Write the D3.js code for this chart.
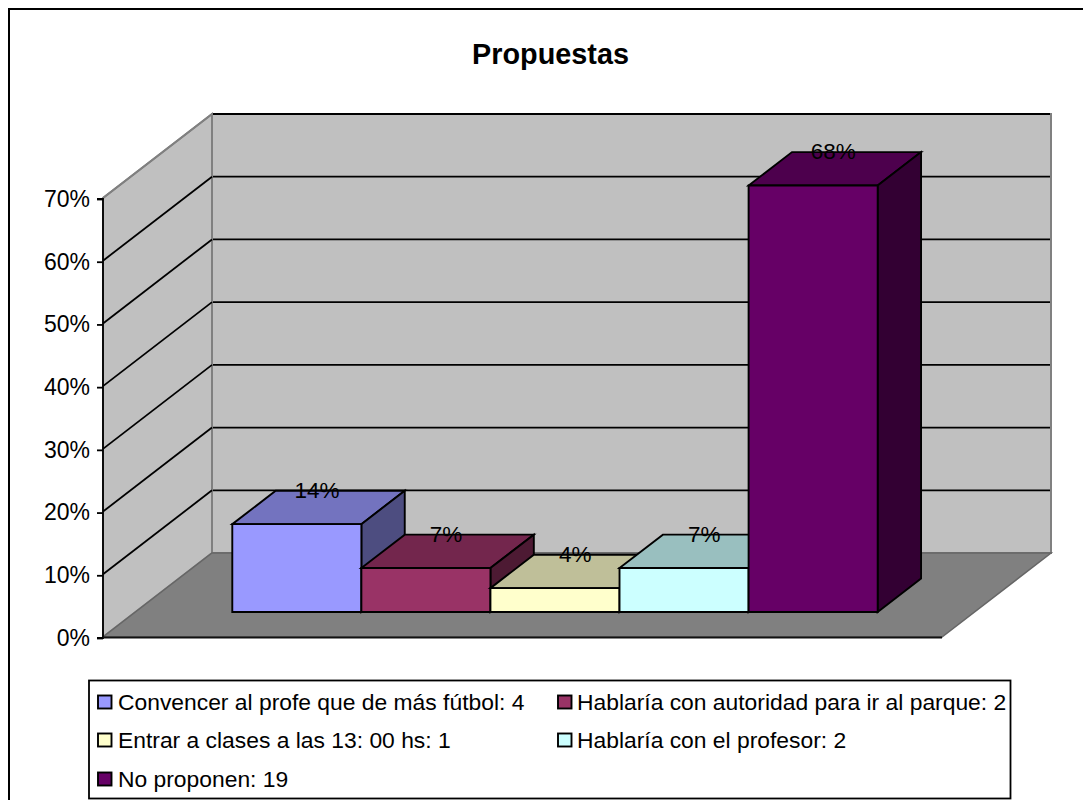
<!DOCTYPE html>
<html><head><meta charset="utf-8">
<script src="https://cdn.jsdelivr.net/npm/d3@7"></script>
<style>html,body{margin:0;padding:0;background:#fff}svg{display:block}text{font-family:"Liberation Sans",Arial,sans-serif;fill:#000}</style>
</head><body><div id="c"></div>
<script>
const categories=["Convencer al profe que de más fútbol: 4","Hablaría con autoridad para ir al parque: 2","Entrar a clases a las 13: 00 hs: 1","Hablaría con el profesor: 2","No proponen: 19"];
const values=[14,7,3.8,7,68];
const labels=["14%","7%","4%","7%","68%"];
const colors=["#9999FF","#993366","#FFFFCC","#CCFFFF","#660066"];
const topColors=["#7373BF","#73264D","#BFBF99","#99BFBF","#4D004D"];
const sideColors=["#4D4D80","#4D1A33","#808066","#668080","#330033"];
const ticks=[0,10,20,30,40,50,60,70];
const title="Propuestas";

const W=1083,H=800;
const svg=d3.select("#c").append("svg").attr("width",W).attr("height",H);
const x0=103,x1=942,y0=637,yTop=198,dX=109,dY=-84,frontT=0.298,backT=0.696;
const y=d3.scaleLinear().domain([0,70]).range([y0,yTop]);
const x=d3.scaleBand().domain(categories).range([x0,x1]).paddingInner(0).paddingOuter(0.75).align(0.5);
const P=(px,v,t)=>[px+dX*t,y(v)+dY*t];
const poly=(pts,fill,stroke,w)=>svg.append("polygon").attr("points",pts.map(p=>p.join(",")).join(" ")).attr("fill",fill).attr("stroke",stroke).attr("stroke-width",w).attr("stroke-linejoin","miter");

// frame
svg.append("rect").attr("x",9).attr("y",9).attr("width",W+20).attr("height",H+20).attr("fill","#fff").attr("stroke","#000").attr("stroke-width",2);
svg.append("text").attr("x",550.5).attr("y",64).attr("text-anchor","middle").attr("font-weight","bold").attr("font-size",28.8).text(title);

// walls and floor
poly([P(x0,0,0),P(x0,0,1),P(x0,70,1),P(x0,70,0)],"#C0C0C0","#808080",2);
poly([P(x0,0,1),P(x1,0,1),P(x1,70,1),P(x0,70,1)],"#C0C0C0","#808080",2);
poly([P(x0,0,0),P(x1,0,0),P(x1,0,1),P(x0,0,1)],"#808080","#666",1.5);
// gridlines
ticks.slice(1).forEach(t=>{
  const a=P(x0,t,0),b=P(x0,t,1),c=P(x1,t,1);
  svg.append("polyline").attr("points",[a,b].map(p=>p.join(",")).join(" ")).attr("fill","none").attr("stroke",t===70?"#808080":"#000").attr("stroke-width",1.8);
  svg.append("polyline").attr("points",[[b[0]+1,b[1]],[c[0]-1,c[1]]].map(p=>p.join(",")).join(" ")).attr("fill","none").attr("stroke","#000").attr("stroke-width",1.8);
});
// axis
const axis=d3.axisLeft(y).tickValues(ticks).tickFormat(d=>d+"%").tickSize(6).tickPadding(7);
const g=svg.append("g").attr("transform",`translate(${x0},1)`).call(axis);
g.selectAll("path,line").attr("stroke","#000").attr("stroke-width",1.8);
g.select("path.domain").attr("d",`M-6,${y(70)}H0V${y(0)}H-6`);
g.selectAll("text").attr("font-size",23).attr("font-family",'"Liberation Sans",Arial,sans-serif');
svg.append("line").attr("x1",x0).attr("x2",x1).attr("y1",y0+0.5).attr("y2",y0+0.5).attr("stroke","#111").attr("stroke-width",1.8);

// bars
categories.forEach((c,i)=>{
  const l=x(c),r=l+x.bandwidth(),v=values[i];
  poly([P(l,v,frontT),P(r,v,frontT),P(r,v,backT),P(l,v,backT)],topColors[i],"#000",1.9);
  poly([P(r,0,frontT),P(r,0,backT),P(r,v,backT),P(r,v,frontT)],sideColors[i],"#000",1.9);
  poly([P(l,0,frontT),P(r,0,frontT),P(r,v,frontT),P(l,v,frontT)],colors[i],"#000",1.9);
});
categories.forEach((c,i)=>{
  const m=P(x(c)+x.bandwidth()/2,values[i],(frontT+backT)/2);
  const b=P(0,values[i],backT);
  svg.append("text").attr("x",m[0]-1.5).attr("y",b[1]+7).attr("text-anchor","middle").attr("font-size",22.5).text(labels[i]);
});

// legend
svg.append("rect").attr("x",89).attr("y",680.5).attr("width",921.5).attr("height",118).attr("fill","#fff").attr("stroke","#000").attr("stroke-width",1.8);
const colX=[98,558],rowY=[702,740,779];
categories.forEach((c,i)=>{
  const cx=colX[i%2],cy=rowY[Math.floor(i/2)];
  svg.append("rect").attr("x",cx).attr("y",cy-6.5).attr("width",13.5).attr("height",13).attr("fill",colors[i]).attr("stroke","#000").attr("stroke-width",1.9);
  svg.append("text").attr("x",i%2?cx+19:cx+20).attr("y",cy+8).attr("font-size",22.85).text(c);
});
</script></body></html>
